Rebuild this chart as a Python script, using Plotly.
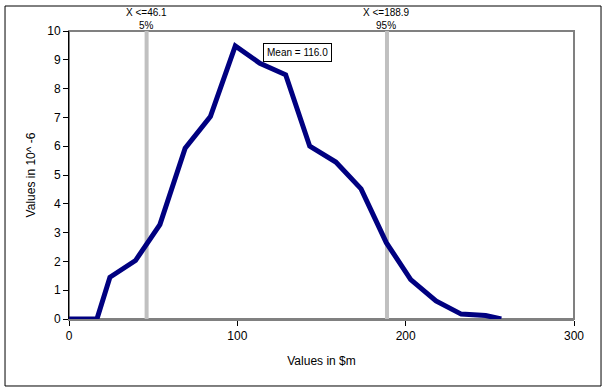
import plotly.graph_objects as go

# Data
x_vals = [0, 16.6, 24.3, 39.5, 54.0, 69.0, 84.0, 98.8, 113.4, 128.7, 143.0, 158.5,
          173.5, 188.5, 203.0, 218.0, 233.0, 247.5, 256.8]
y_vals = [0, 0, 1.45, 2.03, 3.28, 5.93, 7.03, 9.48, 8.88, 8.48, 6.0, 5.45,
          4.52, 2.65, 1.37, 0.63, 0.17, 0.12, 0]

pct_x = [46.1, 188.9]
pct_labels = ["X <=46.1<br>5%", "X <=188.9<br>95%"]
mean_val = 116.0
mean_label = "Mean = 116.0"

x_ticks = [0, 100, 200, 300]
y_ticks = list(range(0, 11))

FONT = "Liberation Sans, Arial, sans-serif"

fig = go.Figure()
fig.add_trace(go.Scatter(x=x_vals, y=y_vals, mode="lines",
                         line=dict(color="#000080", width=5), hoverinfo="skip",
                         showlegend=False))

shapes = []
annotations = []
for px, lab in zip(pct_x, pct_labels):
    shapes.append(dict(type="line", xref="x", yref="y", x0=px, x1=px, y0=0, y1=10,
                       line=dict(color="#c0c0c0", width=4), layer="below"))
    annotations.append(dict(x=px, y=1.0, xref="x", yref="paper", text=lab,
                            showarrow=False, yanchor="bottom", yshift=-2,
                            font=dict(family=FONT, size=10, color="black")))

# plot area border (top/right grey)
shapes.append(dict(type="rect", xref="paper", yref="paper", x0=0, x1=1, y0=0, y1=1,
                   line=dict(color="#808080", width=2), layer="below"))
# outer frame
shapes.append(dict(type="rect", xref="paper", yref="paper", x0=-0.1267, x1=1.0535,
                   y0=-0.2326, y1=1.0868, line=dict(color="black", width=1)))

annotations.append(dict(x=135.7, y=9.25, xref="x", yref="y", text=mean_label,
                        showarrow=False, bordercolor="black", borderwidth=1,
                        bgcolor="white", borderpad=3,
                        font=dict(family=FONT, size=10, color="black")))

fig.update_layout(
    width=610, height=391,
    margin=dict(l=69, r=36, t=31, b=72),
    paper_bgcolor="white", plot_bgcolor="white",
    font=dict(family=FONT, size=12, color="black"),
    shapes=shapes, annotations=annotations,
    xaxis=dict(range=[0, 300], tickvals=x_ticks, showgrid=False, zeroline=False,
               showline=True, linecolor="#808080", linewidth=2,
               ticks="outside", ticklen=5, tickcolor="black",
               title=dict(text="Values in $m", standoff=14,
                          font=dict(family=FONT, size=12)),
               tickfont=dict(family=FONT, size=12)),
    yaxis=dict(range=[0, 10], tickvals=y_ticks, showgrid=False, zeroline=False,
               showline=True, linecolor="black", linewidth=1,
               ticks="outside", ticklen=5, tickcolor="black",
               title=dict(text="Values in 10^ -6", standoff=9,
                          font=dict(family=FONT, size=12)),
               tickfont=dict(family=FONT, size=12)),
)

fig.write_html("out.html", config={"displayModeBar": False},
               post_script="document.body.style.margin='0';document.body.style.padding='0';")
